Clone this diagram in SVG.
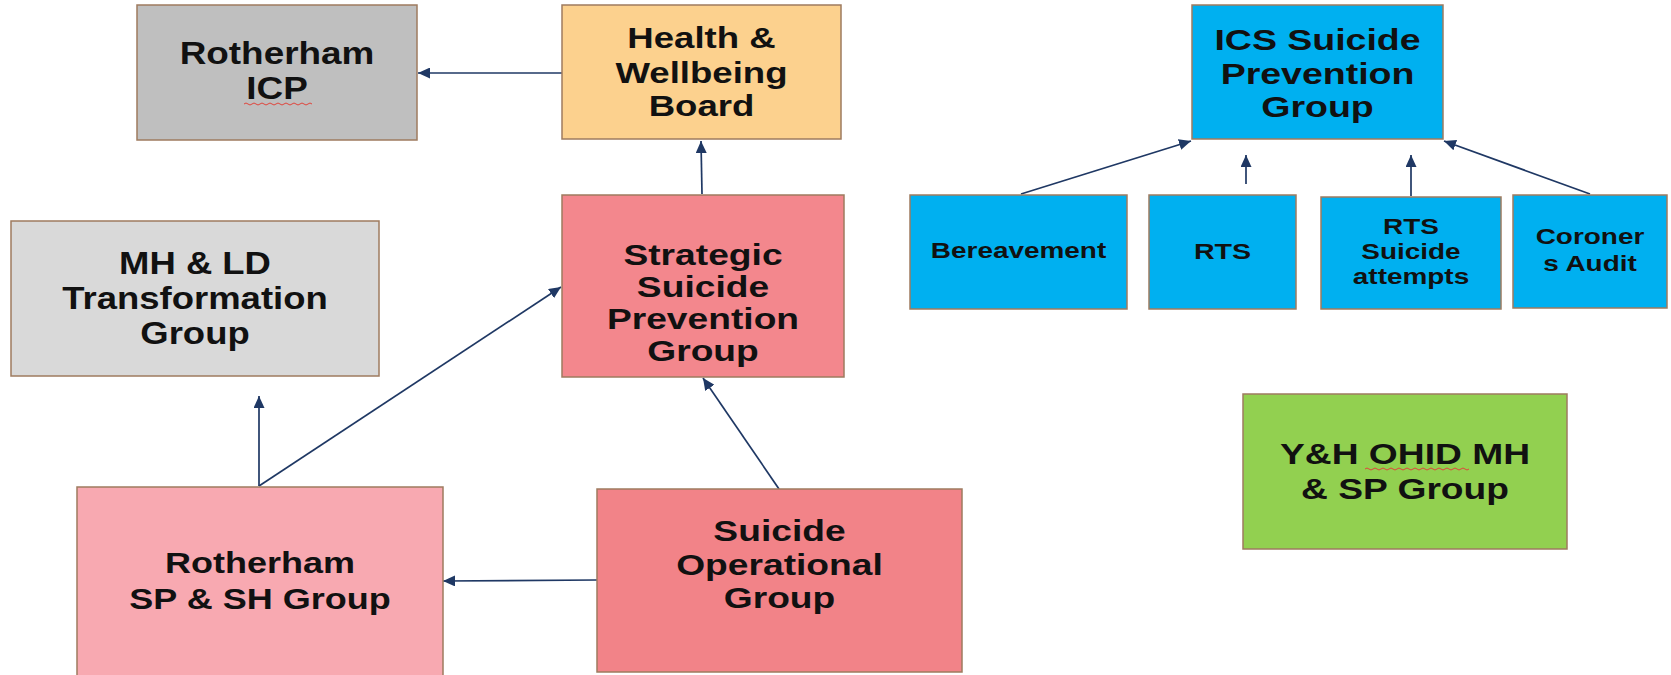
<svg xmlns="http://www.w3.org/2000/svg" width="1671" height="675" viewBox="0 0 1671 675">
  <defs>
    <style>
      .box { stroke: #9e7b5f; stroke-width: 1.5; }
      .lbl { font-family: "Liberation Sans", Arial, sans-serif; font-weight: bold; fill: #111; text-anchor: middle; }
      .big { font-size: 30px; }
      .small { font-size: 22px; }
      .link { fill: none; stroke: #1f3864; stroke-width: 1.7; marker-end: url(#arrow); }
      .squiggle { fill: none; stroke: #e0453c; stroke-width: 1; }
    </style>
    <marker id="arrow" markerUnits="userSpaceOnUse" markerWidth="13" markerHeight="11" refX="12" refY="5.5" orient="auto">
      <path d="M0,0 L12,5.5 L0,11 Z" fill="#1f3864"/>
    </marker>
  </defs>

  <rect width="1671" height="675" fill="#ffffff"/>

  <!-- connectors -->
  <g id="connectors">
    <path class="link" d="M562,73 L418,73"/>
    <path class="link" d="M702,194 L701,141"/>
    <path class="link" d="M259,486 L259,396"/>
    <path class="link" d="M259,486 L561,287"/>
    <path class="link" d="M779,489 L703,378"/>
    <path class="link" d="M597,580 L443,581"/>
    <path class="link" d="M1021,194 L1191,141"/>
    <path class="link" d="M1246,184 L1246,155"/>
    <path class="link" d="M1411,196 L1411,155"/>
    <path class="link" d="M1590,194 L1444,141"/>
  </g>

  <g id="rotherham-icp">
    <rect class="box" x="137" y="5" width="280" height="135" fill="#bfbfbf"/>
    <text class="lbl" font-size="31" transform="matrix(1.19 0 0 1 277 0)"><tspan x="0" y="64">Rotherham</tspan><tspan x="0" y="99">ICP</tspan></text>
    <path class="squiggle" d="M244,104 q2,-2 4,0 t4,0 t4,0 t4,0 t4,0 t4,0 t4,0 t4,0 t4,0 t4,0 t4,0 t4,0 t4,0 t4,0 t4,0 t4,0 t4,0"/>
  </g>

  <g id="health-wellbeing-board">
    <rect class="box" x="562" y="5" width="279" height="134" fill="#fcd18e"/>
    <text class="lbl big" transform="matrix(1.22 0 0 1 701.5 0)"><tspan x="0" y="48">Health &amp;</tspan><tspan x="0" y="83">Wellbeing</tspan><tspan x="0" y="116">Board</tspan></text>
  </g>

  <g id="ics-suicide-prevention-group">
    <rect class="box" x="1192" y="5" width="251" height="134" fill="#00b0f0"/>
    <text class="lbl big" transform="matrix(1.25 0 0 1 1317.5 0)"><tspan x="0" y="50">ICS Suicide</tspan><tspan x="0" y="84">Prevention</tspan><tspan x="0" y="117">Group</tspan></text>
  </g>

  <g id="bereavement">
    <rect class="box" x="910" y="195" width="217" height="114" fill="#00b0f0"/>
    <text class="lbl small" transform="matrix(1.27 0 0 1 1018.5 0)"><tspan x="0" y="258">Bereavement</tspan></text>
  </g>

  <g id="rts">
    <rect class="box" x="1149" y="195" width="147" height="114" fill="#00b0f0"/>
    <text class="lbl small" transform="matrix(1.3 0 0 1 1222.5 0)"><tspan x="0" y="259">RTS</tspan></text>
  </g>

  <g id="rts-suicide-attempts">
    <rect class="box" x="1321" y="197" width="180" height="112" fill="#00b0f0"/>
    <text class="lbl small" transform="matrix(1.27 0 0 1 1411 0)"><tspan x="0" y="234">RTS</tspan><tspan x="0" y="259">Suicide</tspan><tspan x="0" y="284">attempts</tspan></text>
  </g>

  <g id="coroners-audit">
    <rect class="box" x="1513" y="195" width="154" height="113" fill="#00b0f0"/>
    <text class="lbl small" transform="matrix(1.27 0 0 1 1590 0)"><tspan x="0" y="244">Coroner</tspan><tspan x="0" y="271">s Audit</tspan></text>
  </g>

  <g id="mh-ld-transformation-group">
    <rect class="box" x="11" y="221" width="368" height="155" fill="#d9d9d9"/>
    <text class="lbl" font-size="32" transform="matrix(1.14 0 0 1 195 0)"><tspan x="0" y="274">MH &amp; LD</tspan><tspan x="0" y="309">Transformation</tspan><tspan x="0" y="344">Group</tspan></text>
  </g>

  <g id="strategic-suicide-prevention-group">
    <rect class="box" x="562" y="195" width="282" height="182" fill="#f3878d"/>
    <text class="lbl big" transform="matrix(1.24 0 0 1 703 0)"><tspan x="0" y="265">Strategic</tspan><tspan x="0" y="297">Suicide</tspan><tspan x="0" y="329">Prevention</tspan><tspan x="0" y="361">Group</tspan></text>
  </g>

  <g id="rotherham-sp-sh-group">
    <rect class="box" x="77" y="487" width="366" height="190" fill="#f8a9b1"/>
    <text class="lbl big" transform="matrix(1.2 0 0 1 260 0)"><tspan x="0" y="573">Rotherham</tspan><tspan x="0" y="609">SP &amp; SH Group</tspan></text>
  </g>

  <g id="suicide-operational-group">
    <rect class="box" x="597" y="489" width="365" height="183" fill="#f28388"/>
    <text class="lbl big" transform="matrix(1.24 0 0 1 779.5 0)"><tspan x="0" y="541">Suicide</tspan><tspan x="0" y="575">Operational</tspan><tspan x="0" y="608">Group</tspan></text>
  </g>

  <g id="yh-ohid-mh-sp-group">
    <rect class="box" x="1243" y="394" width="324" height="155" fill="#92d050"/>
    <text class="lbl big" transform="matrix(1.24 0 0 1 1405 0)"><tspan x="0" y="464">Y&amp;H OHID MH</tspan><tspan x="0" y="499">&amp; SP Group</tspan></text>
    <path class="squiggle" d="M1365,469 q2,-2 4,0 t4,0 t4,0 t4,0 t4,0 t4,0 t4,0 t4,0 t4,0 t4,0 t4,0 t4,0 t4,0 t4,0 t4,0 t4,0 t4,0 t4,0 t4,0 t4,0 t4,0 t4,0 t4,0 t4,0 t4,0 t4,0"/>
  </g>
</svg>
